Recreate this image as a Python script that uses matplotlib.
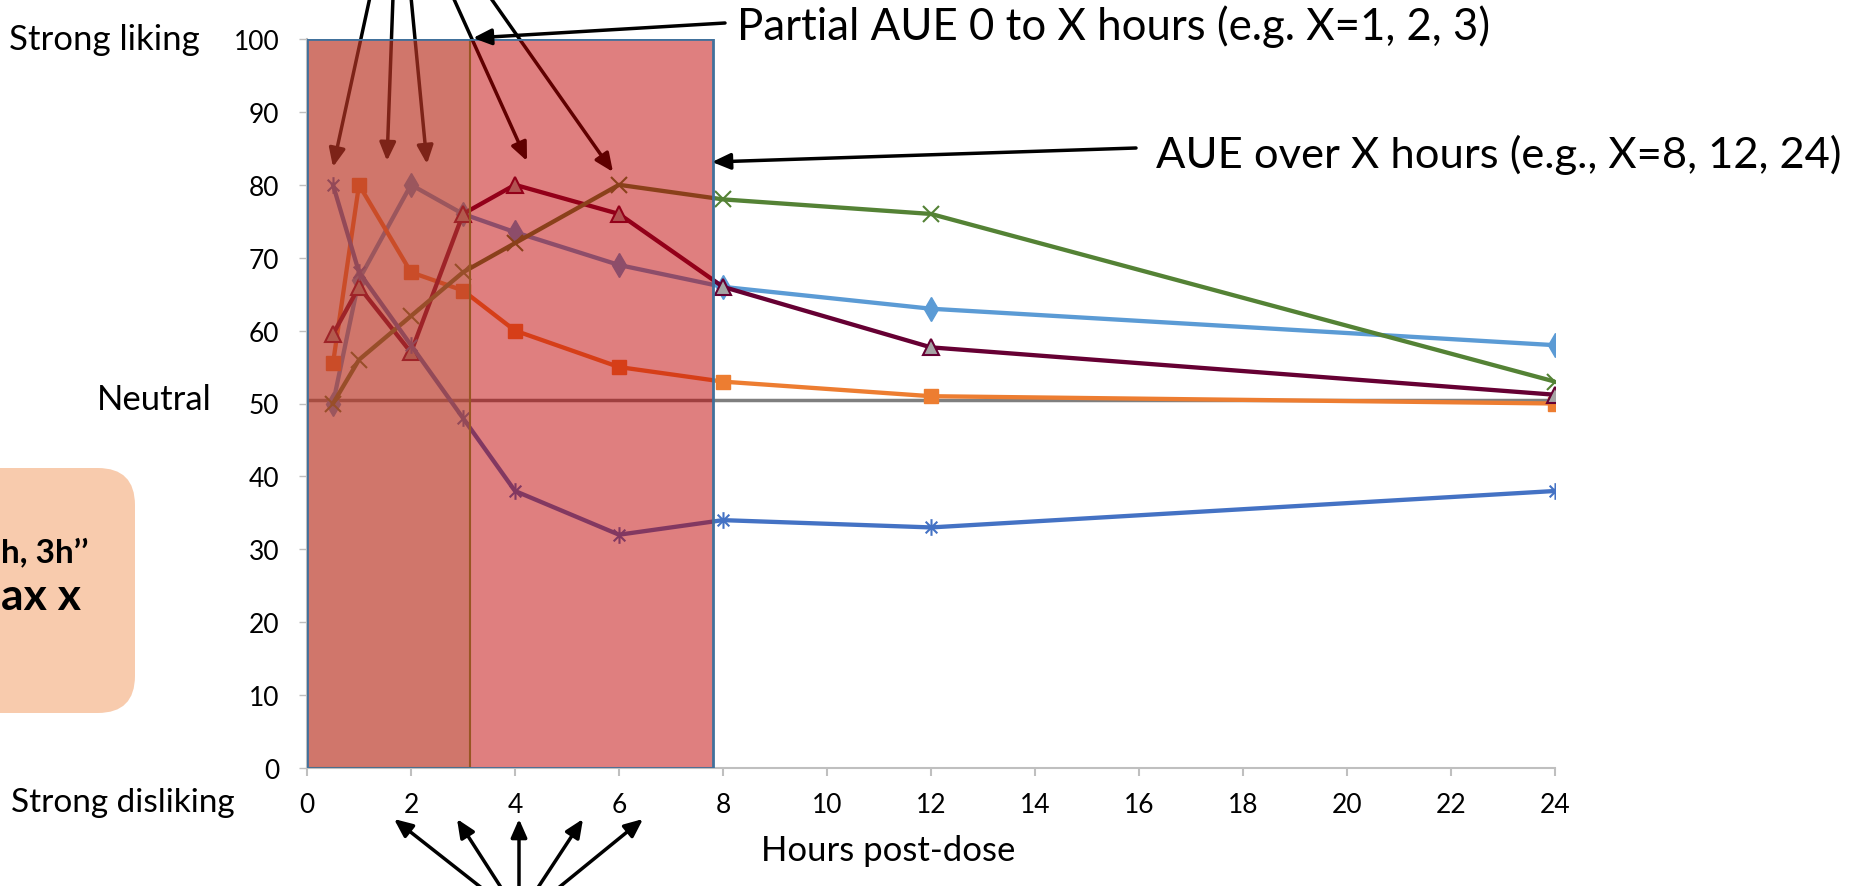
import matplotlib
matplotlib.use("Agg")
import matplotlib.pyplot as plt
from matplotlib.patches import Rectangle, FancyBboxPatch
from matplotlib.path import Path

# data
hours = [0.5, 1, 2, 3, 4, 6, 8, 12, 24]
diamond_vals = [50, 67, 80, 76, 73.5, 69, 66, 63, 58]
square_vals = [55.5, 80, 68, 65.5, 60, 55, 53, 51, 50]
triangle_vals = [59.5, 66, 57, 76, 80, 76, 66, 57.7, 51.2]
cross_vals = [50, 56, 62, 68, 72, 80, 78, 76, 53]
star_vals = [80, 68, 58, 48, 38, 32, 34, 33, 38]
neutral_level = 50.5

partial_end = 3.125   # end of partial AUE window
full_end = 7.8        # end of AUE window

x_ticks = list(range(0, 26, 2))
y_ticks = list(range(0, 110, 10))

W, H = 1859, 887
FONT = "Lato"

plt.rcParams['font.family'] = [FONT, 'DejaVu Sans']

fig = plt.figure(figsize=(W / 100, H / 100), dpi=100)
ax = fig.add_axes([307 / W, (H - 769) / H, (1555 - 307) / W, (769 - 40) / H])

# asterisk like excel: vertical bar plus an x
star_marker = Path([(0, -1), (0, 1), (-0.7, -0.7), (0.7, 0.7), (-0.7, 0.7), (0.7, -0.7)],
                   [Path.MOVETO, Path.LINETO] * 3)

lw = 3.1
ax.axhline(neutral_level, color='#7F7F7F', lw=2.5, zorder=2.5)
ax.plot(hours, diamond_vals, color='#5B9BD5', lw=lw, marker='d', ms=12, zorder=3)
ax.plot(hours, square_vals, color='#ED7D31', lw=lw, marker='s', ms=10, zorder=3)
ax.plot(hours, triangle_vals, color='#660033', lw=lw, marker='^', ms=11,
        mfc='#A5A5A5', mec='#660033', mew=1.5, zorder=3)
ax.plot(hours, cross_vals, color='#548235', lw=lw, marker='x', ms=11, mew=1.5, zorder=3)
ax.plot(hours, star_vals, color='#4472C4', lw=lw, marker=star_marker, ms=12,
        mfc='none', mec='#4472C4', mew=1.5, zorder=3)

# shaded windows sit over the lines
ax.add_patch(Rectangle((0, 0), partial_end, 100, facecolor=(169 / 255, 209 / 255, 142 / 255, 0.35),
                       edgecolor='#70AD47', lw=1.5, zorder=5))
ax.add_patch(Rectangle((0, 0), full_end, 100, facecolor=(192 / 255, 0, 0, 0.5),
                       edgecolor='#41719C', lw=2, zorder=6))

ax.set_xlim(0, 24)
ax.set_ylim(0, 100)
ax.set_xticks(x_ticks)
ax.set_yticks(y_ticks)
for s in ['top', 'right']:
    ax.spines[s].set_visible(False)
for s in ['left', 'bottom']:
    ax.spines[s].set_color('#BFBFBF')
    ax.spines[s].set_linewidth(1.5)
ax.tick_params(axis='x', length=6, width=1.5, color='#BFBFBF', labelsize=19, pad=11)
ax.tick_params(axis='y', length=6, width=1, color='#BFBFBF', labelsize=19, pad=14)

# arrows from above pointing at the early peaks (under the shading)
arrow_kw = dict(arrowstyle='-|>,head_length=0.5,head_width=0.22', color='black',
                lw=2.5, mutation_scale=22, shrinkA=0, shrinkB=0)
top_tips = [(333, 168), (387, 162), (427, 165), (527, 162), (613, 173)]
top_tails = [370, 393, 411, 453, 490]
for (tx, ty), sx in zip(top_tips, top_tails):
    ax.annotate('', xy=(tx, H - ty), xycoords='figure pixels',
                xytext=(sx, H + 2), textcoords='figure pixels',
                arrowprops=arrow_kw, zorder=4, annotation_clip=False)

bottom_tips = [394, 457, 519, 583, 643]
bottom_tails = [483, 502, 519, 537, 557]
for tx, sx in zip(bottom_tips, bottom_tails):
    ax.annotate('', xy=(tx, H - 820), xycoords='figure pixels',
                xytext=(sx, -3), textcoords='figure pixels',
                arrowprops=arrow_kw, zorder=7, annotation_clip=False)

ax.annotate('', xy=(473, H - 39), xycoords='figure pixels',
            xytext=(725, H - 24), textcoords='figure pixels',
            arrowprops=arrow_kw, zorder=7, annotation_clip=False)
ax.annotate('', xy=(712, H - 163), xycoords='figure pixels',
            xytext=(1136, H - 149), textcoords='figure pixels',
            arrowprops=arrow_kw, zorder=7, annotation_clip=False)

fig.text(737 / W, 1 - 27 / H, 'Partial AUE 0 to X hours (e.g. X=1, 2, 3)',
         fontsize=31.5, ha='left', va='center')
fig.text(1156 / W, 1 - 155 / H, 'AUE over X hours (e.g., X=8, 12, 24)',
         fontsize=31.3, ha='left', va='center')

fig.text(200 / W, 1 - 40 / H, 'Strong liking', fontsize=25, ha='right', va='center')
fig.text(212 / W, 1 - 400 / H, 'Neutral', fontsize=25, ha='right', va='center')
fig.text(235 / W, 1 - 803 / H, 'Strong disliking', fontsize=24, ha='right', va='center')
fig.text(888 / W, 1 - 851 / H, 'Hours post-dose', fontsize=25, ha='center', va='center')

# peach callout box, cut off at the left edge
box = FancyBboxPatch((-80 / W, (H - 714) / H), 215 / W, 245 / H,
                     boxstyle='round,pad=0,rounding_size=0.02', transform=fig.transFigure,
                     facecolor='#F8CBAD', edgecolor='none', mutation_aspect=W / H)
fig.patches.append(box)
fig.text(1 / W, 1 - 552 / H, 'h, 3h\u2019\u2019', fontsize=24, fontweight='bold',
         ha='left', va='center')
fig.text(1 / W, 1 - 597 / H, 'ax x', fontsize=32, fontweight='bold',
         ha='left', va='center')

fig.savefig('out.png', dpi=100)
